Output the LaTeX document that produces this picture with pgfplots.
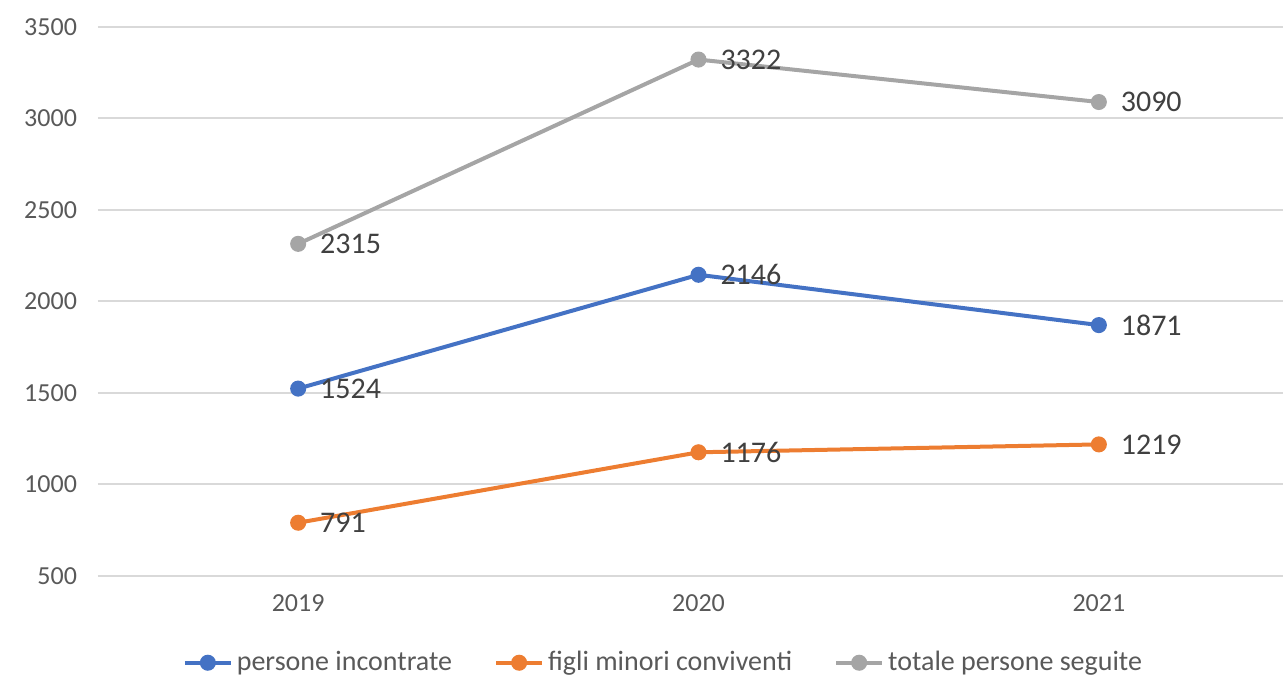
\documentclass[border=0pt]{standalone}
\usepackage{pgfplots}
\pgfplotsset{compat=1.18}
\usepackage{fontspec}
\setmainfont{Carlito}
\definecolor{cblue}{HTML}{4472C4}
\definecolor{corange}{HTML}{ED7D31}
\definecolor{cgray}{HTML}{A5A5A5}
\definecolor{cgrid}{HTML}{D9D9D9}
\definecolor{ctick}{HTML}{595959}
\definecolor{clabel}{HTML}{404040}
\begin{document}
\begin{tikzpicture}
\useasboundingbox (0,0) rectangle (643pt,339pt);
\begin{axis}[
  at={(49pt,51pt)}, anchor=south west,
  width=592.5pt, height=274.5pt, scale only axis,
  xmin=-0.5, xmax=2.46, ymin=500, ymax=3500,
  xtick={0,1,2}, xticklabels={2019,2020,2021},
  ytick={500,1000,...,3500},
  ymajorgrids, major grid style={line width=1pt, color=cgrid},
  axis line style={draw=none}, major tick length=0pt,
  tick label style={font=\fontsize{13}{15}\selectfont, color=ctick},
  /pgf/number format/assume math mode=true,
  /pgf/number format/1000 sep={},
  yticklabel style={xshift=-7pt},
  xticklabel style={yshift=-6pt},
  clip=false,
  nodes near coords,
  every node near coord/.append style={anchor=west, xshift=10pt, inner sep=0pt, font=\fontsize{15}{17}\selectfont, color=clabel},
  legend columns=3,
  legend style={at={(0.478,-0.158)}, anchor=center, draw=none, font=\fontsize{14}{16}\selectfont, text=ctick,
    /tikz/every even column/.append style={column sep=19pt}},
  legend image code/.code={\draw[mark repeat=2,mark phase=2] plot coordinates {(0pt,0pt)(11.5pt,0pt)(23pt,0pt)};},
]
\addplot[cblue, line width=2pt, mark=*, mark size=3pt] coordinates {(0,1524) (1,2146) (2,1871)};
\addlegendentry{persone incontrate}
\addplot[corange, line width=2pt, mark=*, mark size=3pt] coordinates {(0,791) (1,1176) (2,1219)};
\addlegendentry{figli minori conviventi}
\addplot[cgray, line width=2pt, mark=*, mark size=3pt] coordinates {(0,2315) (1,3322) (2,3090)};
\addlegendentry{totale persone seguite}
\end{axis}
\end{tikzpicture}
\end{document}
